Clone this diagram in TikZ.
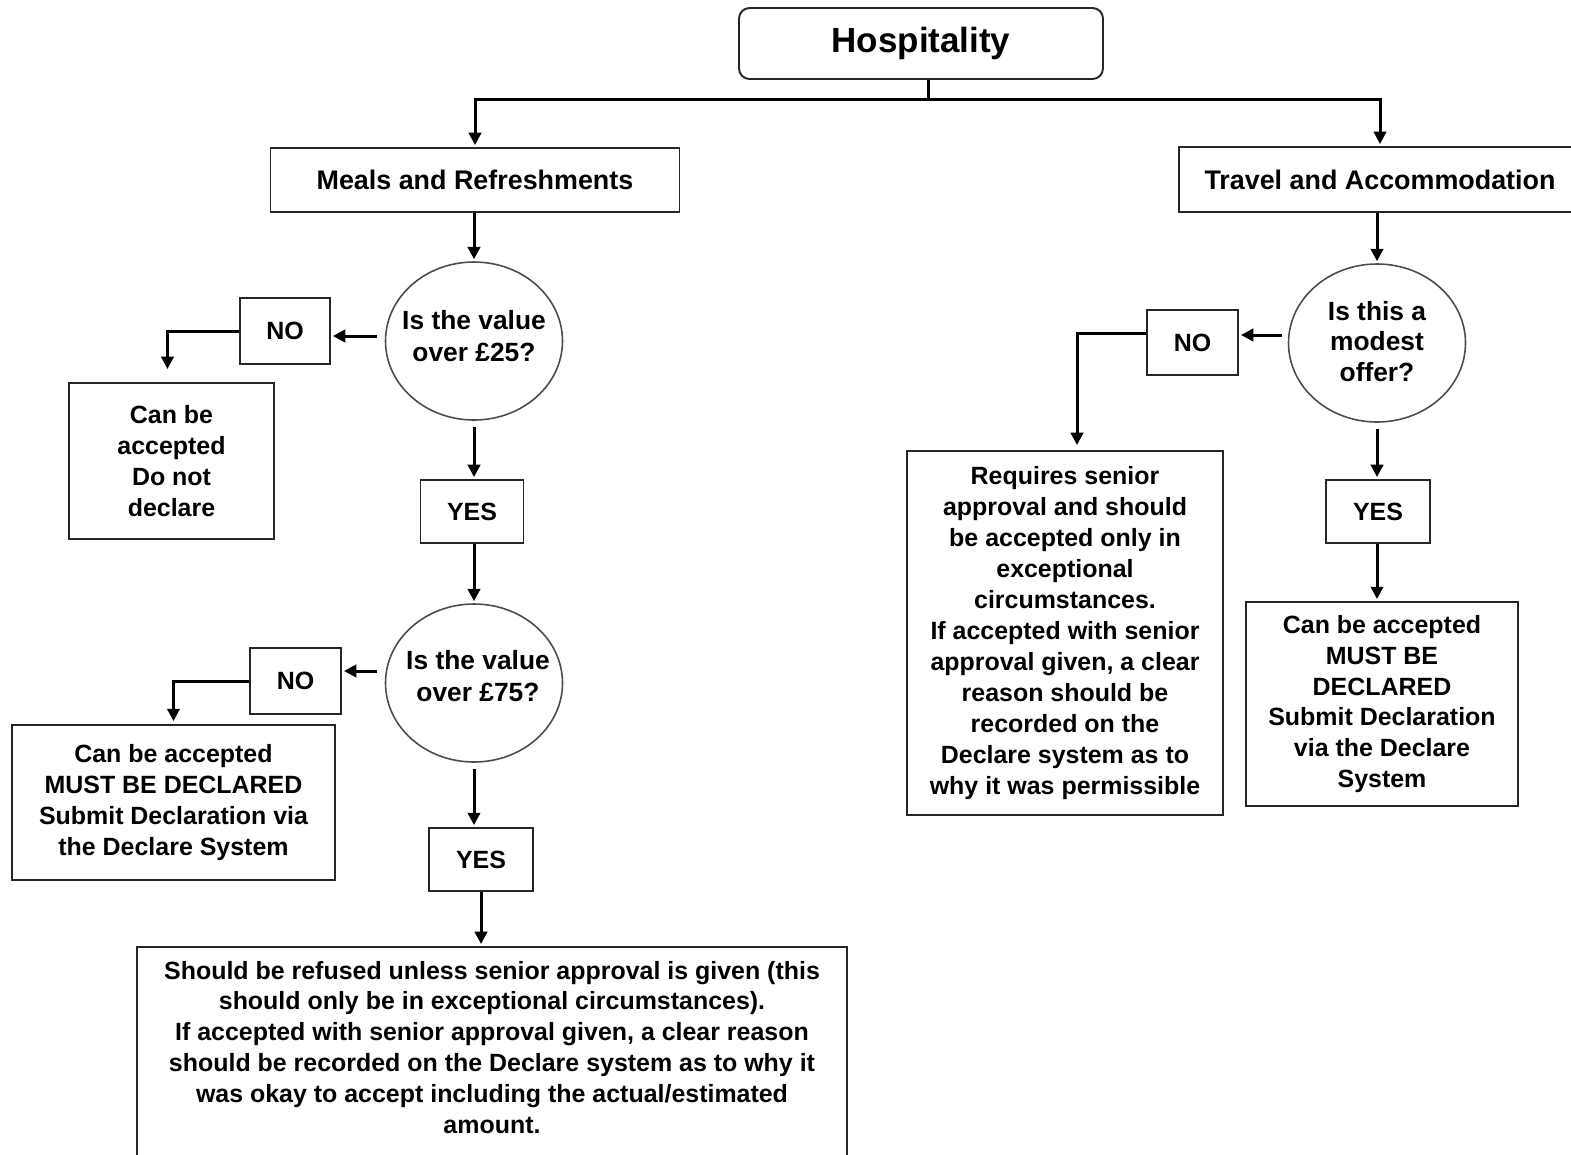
\documentclass[tikz,border=0pt]{standalone}
\usepackage{fontspec}
\setmainfont{Liberation Sans}
\usetikzlibrary{arrows.meta,shapes.geometric}
\newdimen\pu \pu=0.02cm
\newcommand{\boxfont}{\fontsize{14.2pt}{17.6pt}\selectfont\bfseries}
\newcommand{\headfont}{\fontsize{15.3pt}{18pt}\selectfont\bfseries}
\newcommand{\askfont}{\fontsize{15pt}{18pt}\selectfont\bfseries}
\tikzset{
  box/.style={draw=black!85,line width=1.1pt,fill=white,align=center,font=\boxfont,inner sep=0pt},
  topbox/.style={box,rounded corners=6pt,font=\fontsize{19.9pt}{22pt}\selectfont\bfseries},
  decision/.style={ellipse,draw=black!70,line width=0.9pt,fill=white,
    inner sep=0pt,minimum width=177\pu,minimum height=158\pu},
  asktext/.style={align=center,font=\askfont,inner sep=0pt},
  link/.style={line width=1.7pt,black},
  flow/.style={link,-{Triangle[length=7pt,width=7pt]},shorten >=2\pu},
}
\begin{document}
\begin{tikzpicture}[x=0.02cm,y=-0.02cm]
  \clip (0,0) rectangle (1571,1154);
  \fill[white] (0,0) rectangle (1571,1154);
  % top of the tree
  \node[topbox,minimum width=364\pu,minimum height=71\pu] (hosp) at (921,43.5) {Hospitality};
  \node[box,font=\headfont,minimum width=409\pu,minimum height=64\pu] (meals) at (475,180) {Meals and Refreshments};
  \node[box,font=\headfont,minimum width=402\pu,minimum height=65\pu] (travel) at (1380,179.5) {Travel and Accommodation};
  \coordinate (split) at (928,99);
  \draw[link] (hosp.south -| split) -- (split);
  \draw[flow] (split) -| (meals.north);
  \draw[flow] (split) -| (travel.north);
  % meals and refreshments
  \node[decision] (q25) at (474,341) {};
  \node[asktext] (q25text) at (474,336) {Is the value\\over £25?};
  \node[box,minimum width=90\pu,minimum height=66\pu] (no25) at (285,331) {NO};
  \node[box,minimum width=205\pu,minimum height=156\pu] (ok25) at (171.5,461) {Can be\\accepted\\Do not\\declare};
  \node[box,minimum width=103\pu,minimum height=63\pu] (yes25) at (472,511.5) {YES};
  \node[decision] (q75) at (474,683) {};
  \node[asktext] (q75text) at (478,676) {Is the value\\over £75?};
  \node[box,minimum width=91\pu,minimum height=66\pu] (no75) at (295.5,681) {NO};
  \node[box,minimum width=323\pu,minimum height=155\pu] (ok75) at (173.5,802.5) {Can be accepted\\MUST BE DECLARED\\Submit Declaration via\\the Declare System};
  \node[box,minimum width=104\pu,minimum height=63\pu] (yes75) at (481,859.5) {YES};
  \node[box,anchor=north,minimum width=710\pu,inner ysep=14\pu] (refuse) at (492,946) {Should be refused unless senior approval is given (this\\should only be in exceptional circumstances).\\If accepted with senior approval given, a clear reason\\should be recorded on the Declare system as to why it\\was okay to accept including the actual/estimated\\amount.\\\rule{0pt}{20\pu}};
  \draw[flow] (meals.south -| q25.north) -- (q25.north);
  \draw[flow,shorten <=8\pu] ([yshift=5\pu]q25.west) -- ([yshift=5\pu]q25.west -| no25.east);
  \draw[flow,shorten >=13\pu] (no25.west) -| ([xshift=-4\pu]ok25.north);
  \draw[flow,shorten <=6\pu] (q25.south) -- (q25.south |- yes25.north);
  \draw[flow] (yes25.south -| q75.north) -- (q75.north);
  \draw[flow,shorten <=8\pu] ([yshift=12\pu]q75.west) -- ([yshift=12\pu]q75.west -| no75.east);
  \draw[flow,shorten >=3\pu] (no75.west) -| (ok75.north);
  \draw[flow,shorten <=6\pu] (q75.south) -- (q75.south |- yes75.north);
  \draw[flow] (yes75.south) -- (yes75.south |- refuse.north);
  % travel and accommodation
  \node[decision] (qmod) at (1377,343) {};
  \node[asktext,font=\fontsize{15pt}{17.3pt}\selectfont\bfseries] (qmodtext) at (1377,341.5) {Is this a\\modest\\offer?};
  \node[box,minimum width=91\pu,minimum height=65\pu] (nomod) at (1192.5,342.5) {NO};
  \node[box,minimum width=316\pu,minimum height=364\pu] (senior) at (1065,633) {Requires senior\\approval and should\\be accepted only in\\exceptional\\circumstances.\\If accepted with senior\\approval given, a clear\\reason should be\\recorded on the\\Declare system as to\\why it was permissible};
  \node[box,minimum width=104\pu,minimum height=63\pu] (yesmod) at (1378,511.5) {YES};
  \node[box,minimum width=272\pu,minimum height=204\pu] (okmod) at (1382,704) {Can be accepted\\MUST BE\\DECLARED\\Submit Declaration\\via the Declare\\System};
  \draw[flow] (travel.south -| qmod.north) -- (qmod.north);
  \draw[flow,shorten <=6\pu] ([yshift=8\pu]qmod.west) -- ([yshift=8\pu]qmod.west -| nomod.east);
  \draw[flow,shorten >=5\pu] ([yshift=9\pu]nomod.west) -| ([xshift=12\pu]senior.north);
  \draw[flow,shorten <=6\pu] (qmod.south) -- (qmod.south |- yesmod.north);
  \draw[flow] (yesmod.south -| qmod.south) -- (okmod.north -| qmod.south);
\end{tikzpicture}
\end{document}
